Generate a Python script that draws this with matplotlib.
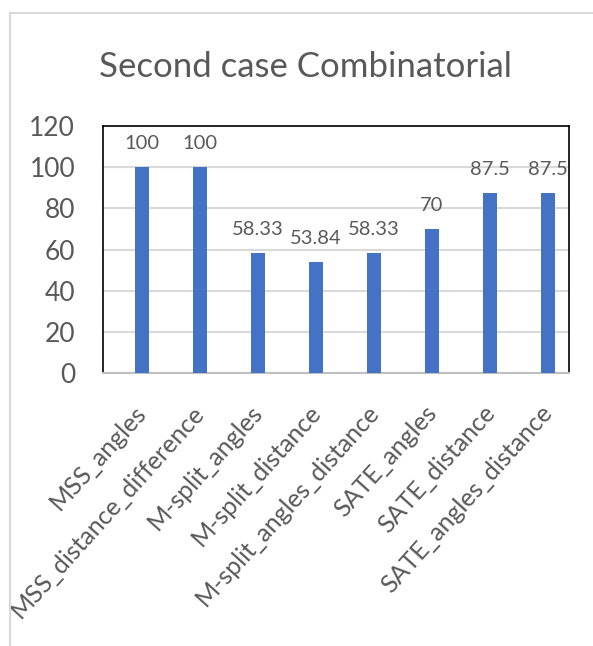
import matplotlib
matplotlib.use('Agg')
import matplotlib.pyplot as plt
import matplotlib.transforms as mtransforms
from matplotlib.patches import Rectangle

categories = ['MSS_angles', 'MSS_distance_difference', 'M-split_angles',
              'M-split_distance', 'M-split_angles_distance', 'SATE_angles',
              'SATE_distance', 'SATE_angles_distance']
values = [100, 100, 58.33, 53.84, 58.33, 70, 87.5, 87.5]
value_labels = ['100', '100', '58.33', '53.84', '58.33', '70', '87.5', '87.5']
yticks = [0, 20, 40, 60, 80, 100, 120]

plt.rcParams['font.family'] = ['Lato', 'DejaVu Sans']
grey = '#595959'

W, H = 593, 646
fig = plt.figure(figsize=(W / 100, H / 100), dpi=100)
ax = fig.add_axes([103 / W, 1 - 373 / H, (569 - 103) / W, (373 - 126) / H])

# outer chart border (light grey), only left and top edges visible
border = Rectangle((10 / W, -0.5), 2, 1.5 - 13 / H, transform=fig.transFigure,
                   fill=False, edgecolor='#D9D9D9', linewidth=1.5)
fig.patches.append(border)

x = list(range(len(categories)))
ax.bar(x, values, width=0.24, color='#4472C4', zorder=3)

for xi, v, lab in zip(x, values, value_labels):
    ax.annotate(lab, (xi, v), xytext=(0, 11), textcoords='offset points',
                ha='center', va='bottom', fontsize=14.5, color=grey)

ax.set_xlim(-0.67, 7.36)
ax.set_ylim(0, 120)
ax.set_yticks(yticks)
ax.set_yticklabels([str(t) for t in yticks], fontsize=19, color=grey)
ax.tick_params(axis='y', length=0, pad=20)
ax.set_xticks(x)
ax.set_xticklabels(categories, rotation=48, ha='right', va='top',
                   rotation_mode='anchor', fontsize=18, color=grey)
ax.tick_params(axis='x', length=0, pad=20)
shift = mtransforms.ScaledTranslation(-8 / 100, 0, fig.dpi_scale_trans)
for lbl in ax.get_xticklabels():
    lbl.set_transform(lbl.get_transform() + shift)

ax.grid(axis='y', color='#D9D9D9', linewidth=1.5, zorder=0)
for s in ['left', 'top', 'right']:
    ax.spines[s].set_color('black')
    ax.spines[s].set_linewidth(1.2)
ax.spines['bottom'].set_color('#BFBFBF')
ax.spines['bottom'].set_linewidth(1.5)

fig.text(305 / W, 1 - 77 / H, 'Second case Combinatorial', ha='center', va='baseline',
         fontsize=25, color=grey)

# clip tick labels at the chart border like the original
clip = Rectangle((10 / W, 0), 1, 1, transform=fig.transFigure, visible=False)
fig.patches.append(clip)
for lbl in ax.get_xticklabels():
    lbl.set_clip_path(clip)

fig.savefig('out.png', dpi=100)
